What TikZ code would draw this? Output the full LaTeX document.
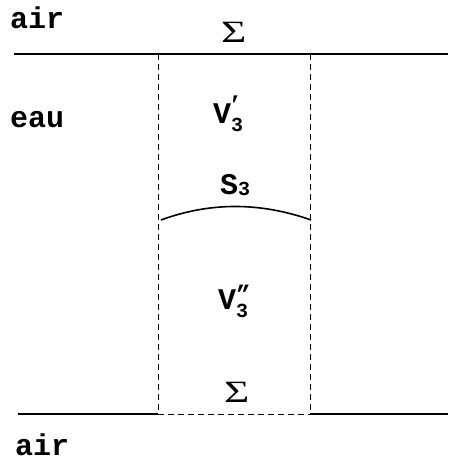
\documentclass[tikz,border=0pt]{standalone}
\usepackage{graphicx}
\usepackage{fontspec}
\setmainfont{Liberation Mono}
\newfontfamily\seriffont{Liberation Serif}
\newcommand{\lbl}{\fontsize{30}{32}\selectfont\bfseries}
\newcommand{\subfnt}{\fontsize{20}{22}\selectfont\bfseries}
\newcommand{\sigtxt}{{\seriffont\fontsize{31}{34}\selectfont\scalebox{1.4}[1]{Σ}}}
\begin{document}
\begin{tikzpicture}[x=1pt,y=1pt,
  solidline/.style={line width=1.8pt},
  dashline/.style={line width=0.9pt, dash pattern=on 6pt off 4pt},
  txt/.style={anchor=base west, inner sep=0pt, font=\lbl},
  sig/.style={anchor=base west, inner sep=0pt}]
\useasboundingbox (0,0) rectangle (448,463);
% coordinates
\coordinate (TL) at (14,409);
\coordinate (TR) at (448,409);
\coordinate (TA) at (158,409);
\coordinate (TB) at (310,409);
\coordinate (BL) at (18,49);
\coordinate (BR) at (448,49);
\coordinate (BA) at (158,49);
\coordinate (BB) at (310,49);
\coordinate (S0) at (161,243);
\coordinate (S1) at (311,243);
% lines
\draw[solidline] (TL) -- (TR);
\draw[solidline] (BL) -- (BA);
\draw[solidline] (BB) -- (BR);
\draw[dashline] (TA) -- (BA);
\draw[dashline] (TB) -- (BB);
\draw[dashline] (BA) -- (BB);
\draw[line width=1.6pt] (S0) .. controls (210,261) and (260,261) .. (S1);
% texts
\node[txt] (airtop) at (10,434) {air};
\node[txt] (eau) at (10,335) {eau};
\node[txt] (airbot) at (15,7) {air};
\node[sig] (sigtop) at (221,420) {\sigtxt};
\node[sig] (sigbot) at (224,60) {\sigtxt};
\node[txt] (v1) at (213,339) {V\rlap{\raisebox{-8pt}{\subfnt 3}}\raisebox{8pt}{\seriffont\bfseries\fontsize{30}{30}\selectfont ′}};
\node[txt] (s3) at (220,268) {S\raisebox{-1pt}{\subfnt 3}};
\node[txt] (v2) at (218,153) {V\rlap{\raisebox{-8pt}{\subfnt 3}}\raisebox{7pt}{\fontsize{24}{24}\selectfont\bfseries "}};
\end{tikzpicture}
\end{document}
